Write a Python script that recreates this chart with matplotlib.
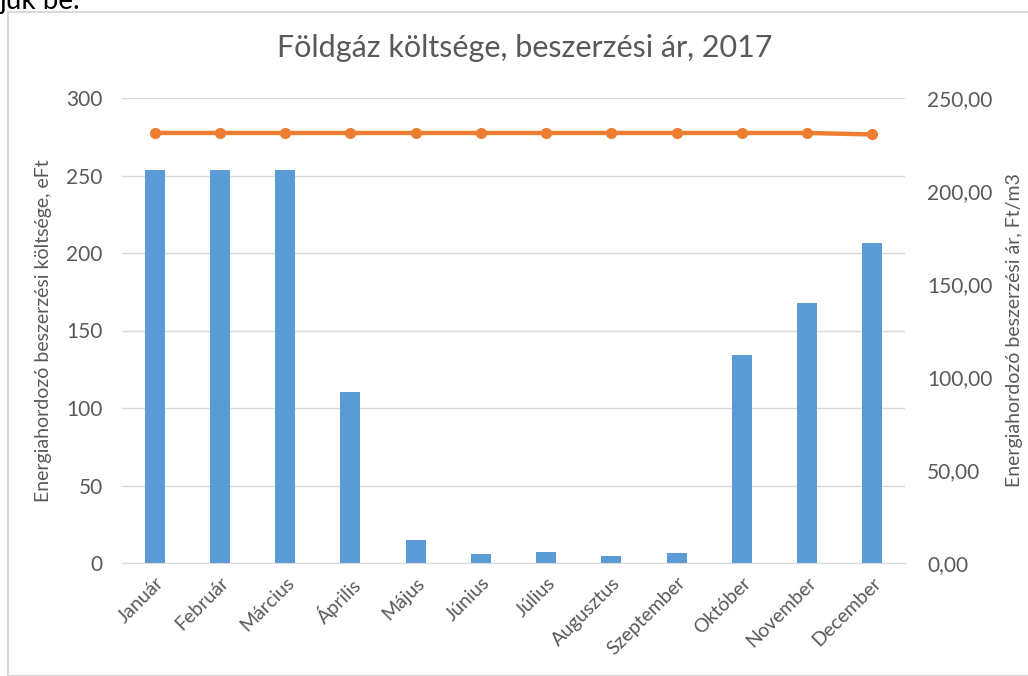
import numpy as np
import matplotlib
matplotlib.use('Agg')
import matplotlib.pyplot as plt
from matplotlib.patches import Rectangle
from matplotlib.ticker import FuncFormatter

months = ['Január', 'Február', 'Március', 'Április', 'Május', 'Június',
          'Július', 'Augusztus', 'Szeptember', 'Október', 'November', 'December']
cost = [253.5, 253.5, 253.5, 110.5, 15, 5.8, 7, 4.5, 6.5, 134.5, 168, 206.5]
price = [231.2, 231.2, 231.2, 231.2, 231.2, 231.2, 231.2, 231.2, 231.2, 231.2, 231.2, 230.4]

plt.rcParams['font.family'] = ['Lato', 'DejaVu Sans']
gray = '#595959'

fig = plt.figure(figsize=(10.28, 6.76), dpi=100)
ax = fig.add_axes([122 / 1028, 113 / 676, 783 / 1028, 465 / 676])
ax2 = ax.twinx()

x = np.arange(len(months))
ax.bar(x, cost, width=0.31, color='#5b9bd5', zorder=2)
ax.set_xlim(-0.5, 11.5)
ax.set_ylim(0, 300)
ax.set_yticks(range(0, 301, 50))
ax.grid(axis='y', color='#d9d9d9', linewidth=1, zorder=0)
ax.set_axisbelow(True)
ax.set_xticks(x)
ax.set_xticklabels(months, rotation=45, ha='right', rotation_mode='anchor', fontsize=14, color=gray)
ax.tick_params(axis='y', length=0, colors=gray, labelsize=15, pad=14)
ax.tick_params(axis='x', length=0, colors=gray, pad=8)
ax.set_ylabel('Energiahordozó beszerzési költsége, eFt', fontsize=14, color=gray, labelpad=10)

ax2.plot(x, price, color='#ed7d31', linewidth=3.2, marker='o', markersize=7, zorder=3)
ax2.set_ylim(0, 250)
ax2.set_yticks(range(0, 251, 50))
ax2.yaxis.set_major_formatter(FuncFormatter(lambda v, p: f'{v:.2f}'.replace('.', ',')))
ax2.tick_params(axis='y', length=0, colors=gray, labelsize=15, pad=16)
ax2.set_ylabel('Energiahordozó beszerzési ár, Ft/m3', fontsize=14, color=gray, labelpad=10)

for a in (ax, ax2):
    for s in a.spines.values():
        s.set_visible(False)
ax.spines['bottom'].set_visible(True)
ax.spines['bottom'].set_color('#d9d9d9')

fig.text(525 / 1028, 1 - 48 / 676, 'Földgáz költsége, beszerzési ár, 2017',
         ha='center', va='center', fontsize=22, color=gray)

fig.text(0.0, 1 - 9 / 676, 'jük be.', ha='left', va='baseline', fontsize=20, color='black')
fig.patches.append(Rectangle((8 / 1028, 0), 1.0, 1 - 12 / 676, transform=fig.transFigure,
                             fill=False, edgecolor='#d9d9d9', linewidth=1.5))

fig.savefig('out.png', dpi=100)
